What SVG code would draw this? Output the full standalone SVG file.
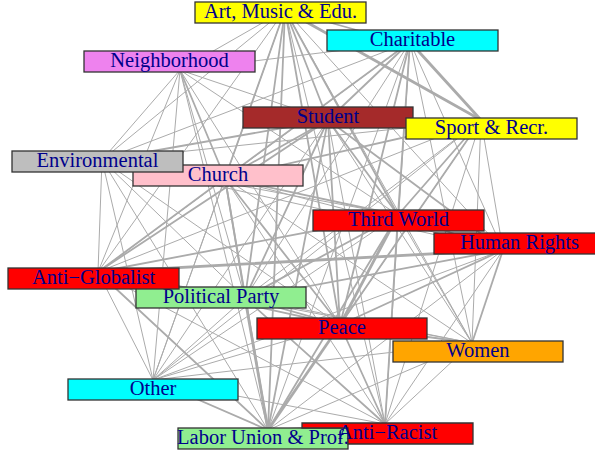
<svg xmlns="http://www.w3.org/2000/svg" width="595" height="454" viewBox="0 0 595 454">
<style>
.e line{stroke:#ababab;stroke-linecap:round}
.w1{stroke-width:1}
.w2{stroke-width:1.8}
.w3{stroke-width:2.8}
.node rect,.node polygon{stroke:#333;stroke-width:1.3}
.node text{font-family:"Liberation Serif","Times New Roman",serif;font-size:20.5px;fill:#00008b;text-anchor:middle}
</style>
<rect width="595" height="454" fill="#fff"/>
<g id="edges" class="e">
<line x1="285" y1="10" x2="410" y2="45" class="w2"/>
<line x1="285" y1="10" x2="180" y2="70" class="w1"/>
<line x1="285" y1="10" x2="328" y2="120" class="w2"/>
<line x1="285" y1="10" x2="481" y2="120" class="w3"/>
<line x1="285" y1="10" x2="102" y2="160" class="w1"/>
<line x1="285" y1="10" x2="225" y2="178" class="w2"/>
<line x1="285" y1="10" x2="398" y2="215" class="w2"/>
<line x1="285" y1="10" x2="503" y2="250" class="w1"/>
<line x1="285" y1="10" x2="98" y2="272" class="w1"/>
<line x1="285" y1="10" x2="245" y2="298" class="w2"/>
<line x1="285" y1="10" x2="340" y2="325" class="w2"/>
<line x1="285" y1="10" x2="472" y2="343" class="w1"/>
<line x1="285" y1="10" x2="153" y2="380" class="w1"/>
<line x1="285" y1="10" x2="385" y2="424" class="w1"/>
<line x1="285" y1="10" x2="268" y2="430" class="w2"/>
<line x1="410" y1="42" x2="180" y2="70" class="w1"/>
<line x1="410" y1="42" x2="328" y2="120" class="w2"/>
<line x1="410" y1="42" x2="481" y2="120" class="w3"/>
<line x1="410" y1="42" x2="102" y2="160" class="w1"/>
<line x1="410" y1="42" x2="225" y2="178" class="w2"/>
<line x1="410" y1="42" x2="398" y2="215" class="w2"/>
<line x1="410" y1="42" x2="503" y2="250" class="w1"/>
<line x1="410" y1="42" x2="98" y2="272" class="w1"/>
<line x1="410" y1="42" x2="245" y2="298" class="w1"/>
<line x1="410" y1="42" x2="340" y2="325" class="w2"/>
<line x1="410" y1="42" x2="472" y2="343" class="w1"/>
<line x1="410" y1="42" x2="385" y2="424" class="w1"/>
<line x1="410" y1="42" x2="268" y2="430" class="w1"/>
<line x1="180" y1="70" x2="328" y2="120" class="w1"/>
<line x1="180" y1="70" x2="102" y2="160" class="w1"/>
<line x1="180" y1="70" x2="225" y2="178" class="w2"/>
<line x1="180" y1="70" x2="398" y2="215" class="w1"/>
<line x1="180" y1="70" x2="98" y2="272" class="w1"/>
<line x1="180" y1="70" x2="245" y2="298" class="w1"/>
<line x1="180" y1="70" x2="340" y2="325" class="w1"/>
<line x1="180" y1="70" x2="153" y2="380" class="w1"/>
<line x1="180" y1="70" x2="268" y2="430" class="w1"/>
<line x1="328" y1="120" x2="481" y2="120" class="w2"/>
<line x1="328" y1="120" x2="102" y2="160" class="w2"/>
<line x1="328" y1="120" x2="225" y2="178" class="w2"/>
<line x1="328" y1="120" x2="398" y2="215" class="w2"/>
<line x1="328" y1="120" x2="503" y2="250" class="w2"/>
<line x1="328" y1="120" x2="98" y2="272" class="w2"/>
<line x1="328" y1="120" x2="245" y2="298" class="w2"/>
<line x1="328" y1="120" x2="340" y2="325" class="w2"/>
<line x1="328" y1="120" x2="472" y2="343" class="w1"/>
<line x1="328" y1="120" x2="153" y2="380" class="w1"/>
<line x1="328" y1="120" x2="385" y2="424" class="w1"/>
<line x1="328" y1="120" x2="268" y2="430" class="w2"/>
<line x1="481" y1="120" x2="102" y2="160" class="w1"/>
<line x1="481" y1="120" x2="225" y2="178" class="w2"/>
<line x1="481" y1="120" x2="398" y2="215" class="w2"/>
<line x1="481" y1="120" x2="503" y2="250" class="w1"/>
<line x1="481" y1="120" x2="98" y2="272" class="w1"/>
<line x1="481" y1="120" x2="245" y2="298" class="w1"/>
<line x1="481" y1="120" x2="340" y2="325" class="w2"/>
<line x1="481" y1="120" x2="472" y2="343" class="w1"/>
<line x1="481" y1="120" x2="153" y2="380" class="w1"/>
<line x1="481" y1="120" x2="385" y2="424" class="w1"/>
<line x1="481" y1="120" x2="268" y2="430" class="w1"/>
<line x1="102" y1="160" x2="225" y2="178" class="w1"/>
<line x1="102" y1="160" x2="398" y2="215" class="w1"/>
<line x1="102" y1="160" x2="503" y2="250" class="w1"/>
<line x1="102" y1="160" x2="98" y2="272" class="w1"/>
<line x1="102" y1="160" x2="245" y2="298" class="w1"/>
<line x1="102" y1="160" x2="340" y2="325" class="w1"/>
<line x1="102" y1="160" x2="153" y2="380" class="w1"/>
<line x1="102" y1="160" x2="268" y2="430" class="w1"/>
<line x1="225" y1="178" x2="398" y2="215" class="w2"/>
<line x1="225" y1="178" x2="503" y2="250" class="w1"/>
<line x1="225" y1="178" x2="98" y2="272" class="w2"/>
<line x1="225" y1="178" x2="245" y2="298" class="w2"/>
<line x1="225" y1="178" x2="340" y2="325" class="w2"/>
<line x1="225" y1="178" x2="472" y2="343" class="w1"/>
<line x1="225" y1="178" x2="153" y2="380" class="w1"/>
<line x1="225" y1="178" x2="385" y2="424" class="w1"/>
<line x1="225" y1="178" x2="268" y2="430" class="w2"/>
<line x1="398" y1="215" x2="503" y2="250" class="w2"/>
<line x1="398" y1="215" x2="98" y2="272" class="w2"/>
<line x1="398" y1="215" x2="245" y2="298" class="w2"/>
<line x1="398" y1="215" x2="340" y2="325" class="w3"/>
<line x1="398" y1="215" x2="472" y2="343" class="w1"/>
<line x1="398" y1="215" x2="153" y2="380" class="w1"/>
<line x1="398" y1="215" x2="385" y2="424" class="w2"/>
<line x1="398" y1="215" x2="268" y2="430" class="w2"/>
<line x1="503" y1="250" x2="98" y2="272" class="w3"/>
<line x1="503" y1="250" x2="245" y2="298" class="w2"/>
<line x1="503" y1="250" x2="340" y2="325" class="w2"/>
<line x1="503" y1="250" x2="472" y2="343" class="w2"/>
<line x1="503" y1="250" x2="153" y2="380" class="w1"/>
<line x1="503" y1="250" x2="385" y2="424" class="w1"/>
<line x1="503" y1="250" x2="268" y2="430" class="w1"/>
<line x1="98" y1="272" x2="245" y2="298" class="w2"/>
<line x1="98" y1="272" x2="340" y2="325" class="w2"/>
<line x1="98" y1="272" x2="472" y2="343" class="w1"/>
<line x1="98" y1="272" x2="153" y2="380" class="w1"/>
<line x1="98" y1="272" x2="385" y2="424" class="w1"/>
<line x1="98" y1="272" x2="268" y2="430" class="w2"/>
<line x1="245" y1="298" x2="340" y2="325" class="w2"/>
<line x1="245" y1="298" x2="472" y2="343" class="w1"/>
<line x1="245" y1="298" x2="153" y2="380" class="w1"/>
<line x1="245" y1="298" x2="385" y2="424" class="w2"/>
<line x1="245" y1="298" x2="268" y2="430" class="w3"/>
<line x1="340" y1="325" x2="472" y2="343" class="w2"/>
<line x1="340" y1="325" x2="153" y2="380" class="w1"/>
<line x1="340" y1="325" x2="385" y2="424" class="w2"/>
<line x1="340" y1="325" x2="268" y2="430" class="w3"/>
<line x1="472" y1="343" x2="153" y2="380" class="w1"/>
<line x1="472" y1="343" x2="385" y2="424" class="w1"/>
<line x1="472" y1="343" x2="268" y2="430" class="w1"/>
<line x1="153" y1="380" x2="385" y2="424" class="w1"/>
<line x1="153" y1="380" x2="268" y2="430" class="w2"/>
<line x1="385" y1="424" x2="268" y2="430" class="w2"/>
</g>
<g id="node-art" class="node"><rect x="195" y="2" width="171" height="21" fill="#ffff00"/><text x="280.5" y="18">Art, Music &amp; Edu.</text></g>
<g id="node-charitable" class="node"><rect x="327" y="30" width="171" height="21" fill="#00ffff"/><text x="412.5" y="46">Charitable</text></g>
<g id="node-neighborhood" class="node"><rect x="84" y="51" width="171" height="21" fill="#ee82ee"/><text x="169.5" y="67">Neighborhood</text></g>
<g id="node-student" class="node"><rect x="243" y="107" width="170" height="21" fill="#a52a2a"/><text x="328" y="123">Student</text></g>
<g id="node-sport" class="node"><rect x="406" y="118" width="171" height="21" fill="#ffff00"/><text x="491.5" y="134">Sport &amp; Recr.</text></g>
<g id="node-church" class="node"><rect x="133" y="165" width="170" height="21" fill="#ffc0cb"/><text x="218" y="181">Church</text></g>
<g id="node-environmental" class="node"><rect x="12" y="151" width="171" height="21" fill="#bebebe"/><text x="97.5" y="167">Environmental</text></g>
<g id="node-thirdworld" class="node"><rect x="313" y="210" width="171" height="21" fill="#ff0000"/><text x="398.5" y="226">Third World</text></g>
<g id="node-humanrights" class="node"><rect x="434" y="233" width="171" height="21" fill="#ff0000"/><text x="519.5" y="249">Human Rights</text></g>
<g id="node-politicalparty" class="node"><rect x="136" y="287" width="170" height="21" fill="#90ee90"/><text x="221" y="303">Political Party</text></g>
<g id="node-antiglobalist" class="node"><rect x="8" y="268" width="171" height="21" fill="#ff0000"/><text x="93.5" y="284">Anti−Globalist</text></g>
<g id="node-peace" class="node"><rect x="257" y="318" width="170" height="21" fill="#ff0000"/><text x="342" y="334">Peace</text></g>
<g id="node-women" class="node"><rect x="393" y="341" width="170" height="21" fill="#ffa500"/><text x="478" y="357">Women</text></g>
<g id="node-other" class="node"><rect x="68" y="379" width="170" height="21" fill="#00ffff"/><text x="153" y="395">Other</text></g>
<g id="node-labor" class="node"><rect x="178" y="428" width="170" height="21" fill="#90ee90"/><text x="263" y="444">Labor Union &amp; Prof.</text></g>
<g id="node-antiracist" class="node"><polygon points="302,423 473,423 473,444 348,444 348,428 302,428" fill="#ff0000"/><text x="387.5" y="439">Anti−Racist</text></g>
</svg>
